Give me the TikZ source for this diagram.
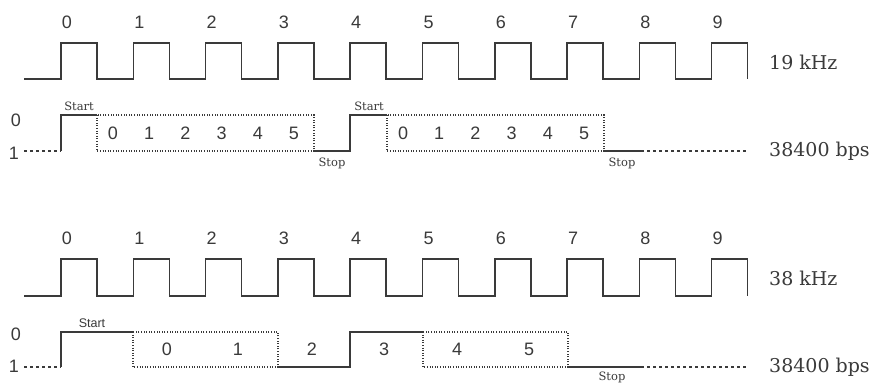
\documentclass[tikz,border=0pt]{standalone}
\usepackage{fontspec}
\setmainfont{DejaVu Serif}
\newfontfamily\digitfont{Liberation Sans}
\definecolor{ink}{HTML}{3A3A3A}
\begin{document}
\begin{tikzpicture}[x=1pt,y=-1pt,
  wave/.style={draw=ink,line width=1.5pt,line join=miter},
  dotbox/.style={draw=ink,line width=1.3pt,dash pattern=on 1pt off 1.6pt},
  dashline/.style={draw=ink,line width=1.2pt,dash pattern=on 3pt off 3pt},
  dig/.style={text=ink,font=\digitfont\fontsize{18}{18}\selectfont,inner sep=0pt},
  tiny/.style={text=ink,font=\fontsize{11.5}{11.5}\selectfont,inner sep=0pt},
  tinysans/.style={text=ink,font=\digitfont\fontsize{12.5}{12.5}\selectfont,inner sep=0pt},
  rlab/.style={text=ink,font=\fontsize{19}{19}\selectfont,inner sep=0pt,anchor=west}]
\useasboundingbox[fill=white] (0,0) rectangle (872,385);

% ---------- top clock 19 kHz ----------
\draw[wave] (24,79) foreach \k in {0,...,9} {
  -- ({61+72.3*\k},79) -- ({61+72.3*\k},43) -- ({97+72.3*\k},43) -- ({97+72.3*\k},79) };
\foreach \k in {0,...,9} \node[dig] (ta\k) at ({67+72.3*\k},22) {\k};
\node[rlab] (f1) at (769,62) {19 kHz};

% ---------- top data line ----------
\node[dig] (z1) at (16,120) {0};
\node[dig] (o1) at (14,153) {1};
\coordinate (a0) at (24,151);
\coordinate (a1) at (61,151);
\draw[dashline] (a0) -- (a1);
\draw[wave] (a1) -- (61,115) -- (97,115);
\draw[dotbox] (97,115) rectangle (314,151);
\draw[wave] (314,151) -- (350,151) -- (350,115) -- (387,115);
\draw[dotbox] (387,115) rectangle (604,151);
\coordinate (a2) at (604,151);
\coordinate (a3) at (641,151);
\coordinate (a4) at (748,151);
\draw[wave] (a2) -- (a3);
\draw[dashline] (a3) -- (a4);
\foreach \k in {0,...,5} {
  \node[dig] (b1\k) at ({113+36.2*\k},133) {\k};
  \node[dig] (b2\k) at ({403+36.2*\k},133) {\k};
}
\node[tiny] (st1) at (79,106) {Start};
\node[tiny] (st2) at (369,106) {Start};
\node[tiny] (sp1) at (332,163) {Stop};
\node[tiny] (sp2) at (622,163) {Stop};
\node[rlab] (r1) at (769,151) {38400 bps};

% ---------- bottom clock 38 kHz ----------
\draw[wave] (24,296) foreach \k in {0,...,9} {
  -- ({61+72.3*\k},296) -- ({61+72.3*\k},259) -- ({97+72.3*\k},259) -- ({97+72.3*\k},296) };
\foreach \k in {0,...,9} \node[dig] (tb\k) at ({67+72.3*\k},238) {\k};
\node[rlab] (f2) at (769,278) {38 kHz};

% ---------- bottom data line ----------
\node[dig] (z2) at (16,334) {0};
\node[dig] (o2) at (14,366) {1};
\coordinate (c0) at (24,367);
\coordinate (c1) at (61,367);
\draw[dashline] (c0) -- (c1);
\draw[wave] (c1) -- (61,332) -- (133,332);
\draw[dotbox] (133,332) rectangle (278,367);
\draw[wave] (278,367) -- (350,367) -- (350,332) -- (423,332);
\draw[dotbox] (423,332) rectangle (568,367);
\coordinate (c2) at (568,367);
\coordinate (c3) at (641,367);
\coordinate (c4) at (748,367);
\draw[wave] (c2) -- (c3);
\draw[dashline] (c3) -- (c4);
\node[dig] (d0) at (167,349) {0};
\node[dig] (d1) at (238,349) {1};
\node[dig] (d2) at (312,349) {2};
\node[dig] (d3) at (384,349) {3};
\node[dig] (d4) at (457,349) {4};
\node[dig] (d5) at (529,349) {5};
\node[tinysans] (st3) at (92,323) {Start};
\node[tiny] (sp3) at (612,377) {Stop};
\node[rlab] (r2) at (769,367) {38400 bps};
\end{tikzpicture}
\end{document}
